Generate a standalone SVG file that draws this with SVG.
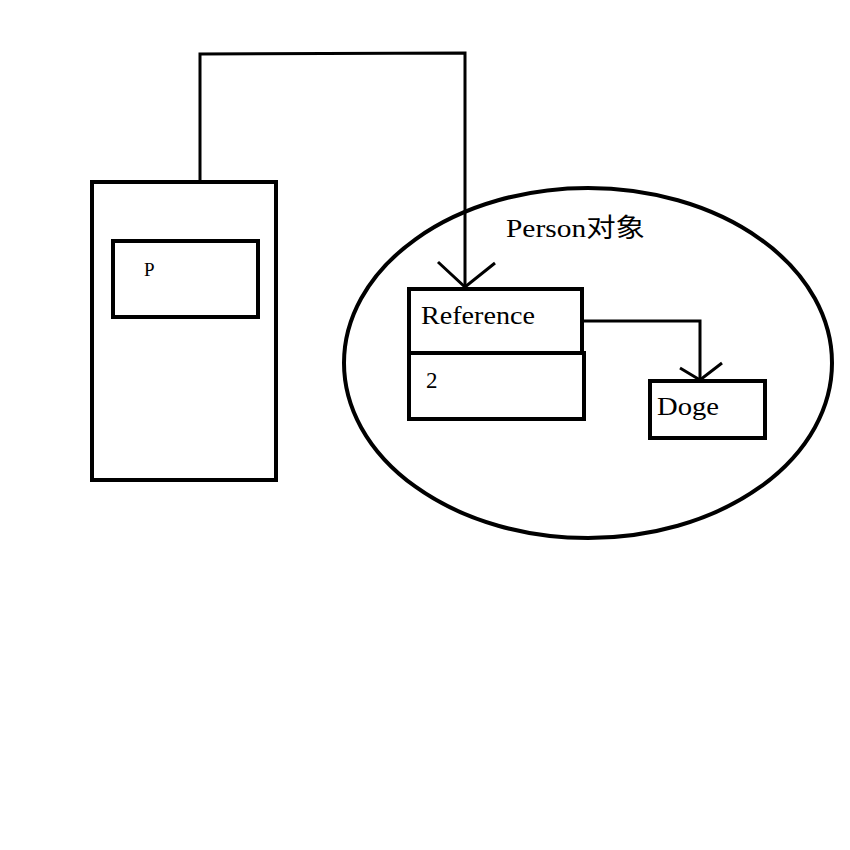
<svg xmlns="http://www.w3.org/2000/svg" width="850" height="850" viewBox="0 0 850 850">
<style>
.box{fill:none;stroke:#000;stroke-width:4}
.line{fill:none;stroke:#000;stroke-width:3}
.t{font-family:"Liberation Serif","Noto Sans CJK SC",serif;fill:#000}
</style>
<rect width="850" height="850" fill="#fff"/>
<g id="stack">
<rect class="box" x="92" y="182" width="184" height="298"/>
</g>
<g id="p-var">
<rect class="box" x="113" y="241" width="145" height="76"/>
<text class="t" x="144" y="276" font-size="19">P</text>
</g>
<g id="person">
<ellipse class="box" cx="588" cy="363" rx="244" ry="175" stroke-width="4.5"/>
<text class="t" x="506" y="237" font-size="26" textLength="139" lengthAdjust="spacingAndGlyphs">Person对象</text>
</g>
<g id="reference">
<rect class="box" x="409" y="289" width="173" height="64"/>
<text class="t" x="421" y="324" font-size="26" textLength="114" lengthAdjust="spacingAndGlyphs">Reference</text>
</g>
<g id="value">
<rect class="box" x="409" y="353" width="175" height="66"/>
<text class="t" x="426" y="388" font-size="23">2</text>
</g>
<g id="doge">
<rect class="box" x="650" y="381" width="115" height="57"/>
<text class="t" x="657" y="415" font-size="26" textLength="62" lengthAdjust="spacingAndGlyphs">Doge</text>
</g>
<g id="connectors">
<polyline class="line" points="200,182 200,54 465,53 465,287"/>
<polyline class="line" points="438,262 465,287 495,263"/>
<polyline class="line" points="584,321 700,321 700,380"/>
<polyline class="line" points="680,368 700,380 722,363"/>
</g>
</svg>
